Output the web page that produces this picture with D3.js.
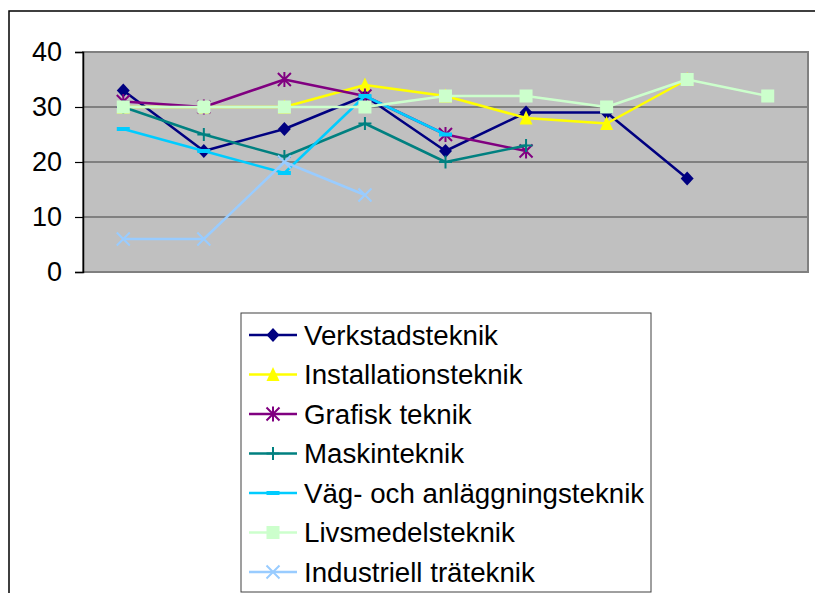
<!DOCTYPE html>
<html>
<head>
<meta charset="utf-8">
<script src="https://cdn.jsdelivr.net/npm/d3@7"></script>
<style>
  html, body { margin: 0; padding: 0; background: #fff; }
  svg { display: block; }
  text { font-family: "Liberation Sans", Arial, sans-serif; }
</style>
</head>
<body>
<svg id="chart" width="815" height="593"></svg>
<script>
// ---- data ----
const categories = ["1", "2", "3", "4", "5", "6", "7", "8", "9"];
const seriesNames = [
  "Verkstadsteknik",
  "Installationsteknik",
  "Grafisk teknik",
  "Maskinteknik",
  "Väg- och anläggningsteknik",
  "Livsmedelsteknik",
  "Industriell träteknik"
];
const verkstad     = [33, 22, 26, 32, 22, 29, 29, 17, null];
const installation = [30, 30, 30, 34, 32, 28, 27, 35, null];
const grafisk      = [31, 30, 35, 32, 25, 22, null, null, null];
const maskin       = [30, 25, 21, 27, 20, 23, null, null, null];
const vag          = [26, 22, 18, 32, 25, null, null, null, null];
const livsmedel    = [30, 30, 30, 30, 32, 32, 30, 35, 32];
const industriell  = [6, 6, 20, 14, null, null, null, null, null];
const yTicks = [0, 10, 20, 30, 40];

const seriesValues = [verkstad, installation, grafisk, maskin, vag, livsmedel, industriell];
const colors = ["#000080", "#FFFF00", "#800080", "#008080", "#00CCFF", "#CCFFCC", "#99CCFF"];
const markers = ["diamond", "triangle", "asterisk", "plus", "dash", "square", "x"];

// ---- layout ----
const svg = d3.select("#chart");
const plot = { left: 83, right: 808, top: 52, bottom: 272 };

// outer chart border (extends past the window on right/bottom)
svg.append("rect")
  .attr("x", 9).attr("y", 11)
  .attr("width", 900).attr("height", 700)
  .attr("fill", "#fff").attr("stroke", "#000").attr("stroke-width", 1.5);

const x = d3.scalePoint().domain(categories).range([plot.left, plot.right]).padding(0.5);
const y = d3.scaleLinear().domain([0, 40]).range([plot.bottom, plot.top]);

// plot area
svg.append("rect")
  .attr("x", plot.left).attr("y", plot.top)
  .attr("width", plot.right - plot.left).attr("height", plot.bottom - plot.top)
  .attr("fill", "#C0C0C0");

// gridlines
svg.append("g").selectAll("line").data(yTicks.filter(t => t > 0 && t < 40)).join("line")
  .attr("x1", plot.left).attr("x2", plot.right)
  .attr("y1", d => y(d)).attr("y2", d => y(d))
  .attr("stroke", "#404040").attr("stroke-width", 1.2);

// plot border
svg.append("rect")
  .attr("x", plot.left).attr("y", plot.top)
  .attr("width", plot.right - plot.left).attr("height", plot.bottom - plot.top)
  .attr("fill", "none").attr("stroke", "#808080").attr("stroke-width", 2);

// y axis
const yAxis = d3.axisLeft(y).tickValues(yTicks).tickSize(8).tickPadding(13);
const gy = svg.append("g").attr("transform", `translate(${plot.left},0)`).call(yAxis);
gy.select(".domain").attr("stroke", "#000").attr("stroke-width", 1.5);
gy.selectAll(".tick line").attr("stroke", "#000").attr("stroke-width", 1.2);
gy.selectAll(".tick text")
  .attr("fill", "#000")
  .style("font-size", "27px")
  .style("font-family", "'Liberation Sans', Arial, sans-serif");

// marker drawing
function drawMarker(g, type, color, cx, cy) {
  const s = 6.5;
  if (type === "diamond") {
    g.append("path").attr("d", `M${cx},${cy - s - 0.5}L${cx + s},${cy}L${cx},${cy + s + 0.5}L${cx - s},${cy}Z`)
      .attr("fill", color);
  } else if (type === "triangle") {
    g.append("path").attr("d", `M${cx},${cy - s - 1}L${cx + s},${cy + s}L${cx - s},${cy + s}Z`)
      .attr("fill", color);
  } else if (type === "square") {
    g.append("rect").attr("x", cx - s).attr("y", cy - s).attr("width", 2 * s).attr("height", 2 * s)
      .attr("fill", color);
  } else if (type === "dash") {
    g.append("rect").attr("x", cx - s).attr("y", cy - 2).attr("width", 2 * s).attr("height", 4)
      .attr("fill", color);
  } else if (type === "plus") {
    g.append("path").attr("d", `M${cx - s},${cy}H${cx + s}M${cx},${cy - s}V${cy + s}`)
      .attr("stroke", color).attr("stroke-width", 2).attr("fill", "none");
  } else if (type === "x") {
    g.append("path").attr("d", `M${cx - s},${cy - s}L${cx + s},${cy + s}M${cx + s},${cy - s}L${cx - s},${cy + s}`)
      .attr("stroke", color).attr("stroke-width", 2).attr("fill", "none");
  } else if (type === "asterisk") {
    g.append("path").attr("d", `M${cx - s},${cy - s}L${cx + s},${cy + s}M${cx + s},${cy - s}L${cx - s},${cy + s}M${cx},${cy - s - 1}V${cy + s + 1}`)
      .attr("stroke", color).attr("stroke-width", 2).attr("fill", "none");
  }
}

// series
const line = d3.line()
  .defined(d => d.v !== null)
  .x(d => x(d.c))
  .y(d => y(d.v));

seriesValues.forEach((vals, i) => {
  const pts = vals.map((v, j) => ({ c: categories[j], v }));
  const g = svg.append("g").attr("class", "series");
  g.append("path").datum(pts)
    .attr("d", line)
    .attr("fill", "none")
    .attr("stroke", colors[i])
    .attr("stroke-width", 2.5)
    .attr("stroke-linejoin", "round");
  pts.filter(p => p.v !== null).forEach(p => drawMarker(g, markers[i], colors[i], x(p.c), y(p.v)));
});

// legend
const legend = { x: 241, y: 313, w: 410, h: 279 };
svg.append("rect")
  .attr("x", legend.x).attr("y", legend.y).attr("width", legend.w).attr("height", legend.h)
  .attr("fill", "#fff").attr("stroke", "#404040").attr("stroke-width", 1);

const rowY = d3.scalePoint().domain(seriesNames).range([335, 572]);
seriesNames.forEach((name, i) => {
  const g = svg.append("g");
  const cy = rowY(name);
  g.append("line").attr("x1", 249).attr("x2", 297).attr("y1", cy).attr("y2", cy)
    .attr("stroke", colors[i]).attr("stroke-width", 2.5);
  drawMarker(g, markers[i], colors[i], 273, cy);
  g.append("text").attr("x", 304).attr("y", cy).attr("dy", "0.36em")
    .attr("fill", "#000").style("font-size", "27.7px")
    .text(name);
});
</script>
</body>
</html>
